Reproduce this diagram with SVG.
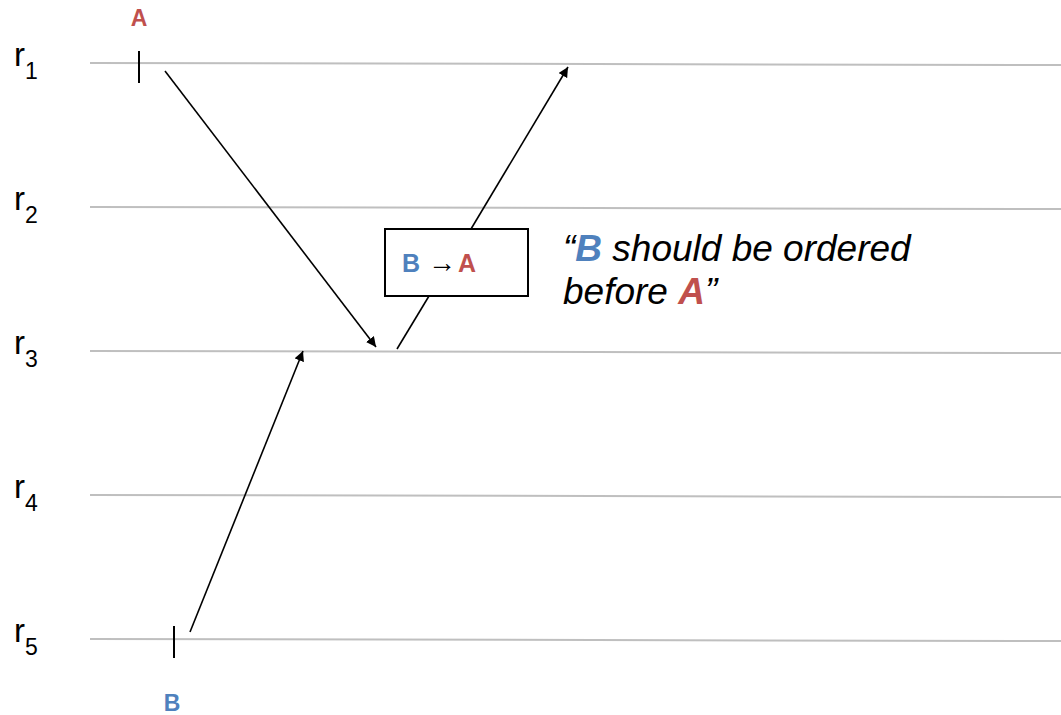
<svg xmlns="http://www.w3.org/2000/svg" width="1061" height="715" viewBox="0 0 1061 715">
  <defs>
    <marker id="arrow" viewBox="0 0 10 10" refX="10" refY="5" markerWidth="10" markerHeight="10" markerUnits="userSpaceOnUse" orient="auto">
      <path d="M0,0 L10,5 L0,10 z" fill="#000"/>
    </marker>
    <style>
      .rank { stroke: #bfbfbf; stroke-width: 2; fill: none; }
      .lbl { font-family: "Liberation Sans", Arial, sans-serif; fill: #000; }
      .tick { stroke: #000; stroke-width: 2; }
      .edge { stroke: #000; stroke-width: 1.6; fill: none; marker-end: url(#arrow); }
      .red { fill: #c0504d; font-weight: bold; }
      .blue { fill: #4f81bd; font-weight: bold; }
    </style>
  </defs>
  <rect width="1061" height="715" fill="#fff"/>

  <!-- rows -->
  <g id="rows">
    <line class="rank" x1="90" y1="63" x2="1061" y2="65"/>
    <line class="rank" x1="90" y1="207" x2="1061" y2="209"/>
    <line class="rank" x1="90" y1="351" x2="1061" y2="353"/>
    <line class="rank" x1="90" y1="495" x2="1061" y2="497"/>
    <line class="rank" x1="90" y1="639" x2="1061" y2="641"/>
    <text class="lbl" x="14" y="66" font-size="33">r<tspan font-size="23" dy="13">1</tspan></text>
    <text class="lbl" x="14" y="210" font-size="33">r<tspan font-size="23" dy="13">2</tspan></text>
    <text class="lbl" x="14" y="354" font-size="33">r<tspan font-size="23" dy="13">3</tspan></text>
    <text class="lbl" x="14" y="498" font-size="33">r<tspan font-size="23" dy="13">4</tspan></text>
    <text class="lbl" x="14" y="642" font-size="33">r<tspan font-size="23" dy="13">5</tspan></text>
  </g>

  <!-- event A -->
  <g id="eventA">
    <line class="tick" x1="139" y1="51" x2="139" y2="83"/>
    <text class="lbl red" x="139" y="26" font-size="23" text-anchor="middle">A</text>
  </g>

  <!-- event B -->
  <g id="eventB">
    <line class="tick" x1="174" y1="626" x2="174" y2="658"/>
    <text class="lbl blue" x="172" y="711" font-size="23" text-anchor="middle">B</text>
  </g>

  <!-- ordering box -->
  <g id="orderBox">
    <rect x="385" y="229" width="143" height="67" fill="#fff" stroke="#000" stroke-width="2"/>
    <text class="lbl" x="402" y="272" font-size="25"><tspan class="blue">B</tspan><tspan x="428" font-size="28">→</tspan><tspan class="red" x="458">A</tspan></text>
  </g>

  <!-- caption -->
  <g id="caption">
    <text class="lbl" x="563" y="261" font-size="37" font-style="italic">“<tspan class="blue">B</tspan> should be ordered</text>
    <text class="lbl" x="563" y="304" font-size="37" font-style="italic">before <tspan class="red">A</tspan>”</text>
  </g>

  <!-- connectors -->
  <g id="connectors">
    <line class="edge" x1="165" y1="71" x2="376" y2="347"/>
    <line class="edge" x1="190" y1="632" x2="303" y2="351"/>
    <line x1="397" y1="349" x2="429" y2="296" stroke="#000" stroke-width="1.6"/>
    <line class="edge" x1="471" y1="229" x2="568" y2="67"/>
  </g>
</svg>
